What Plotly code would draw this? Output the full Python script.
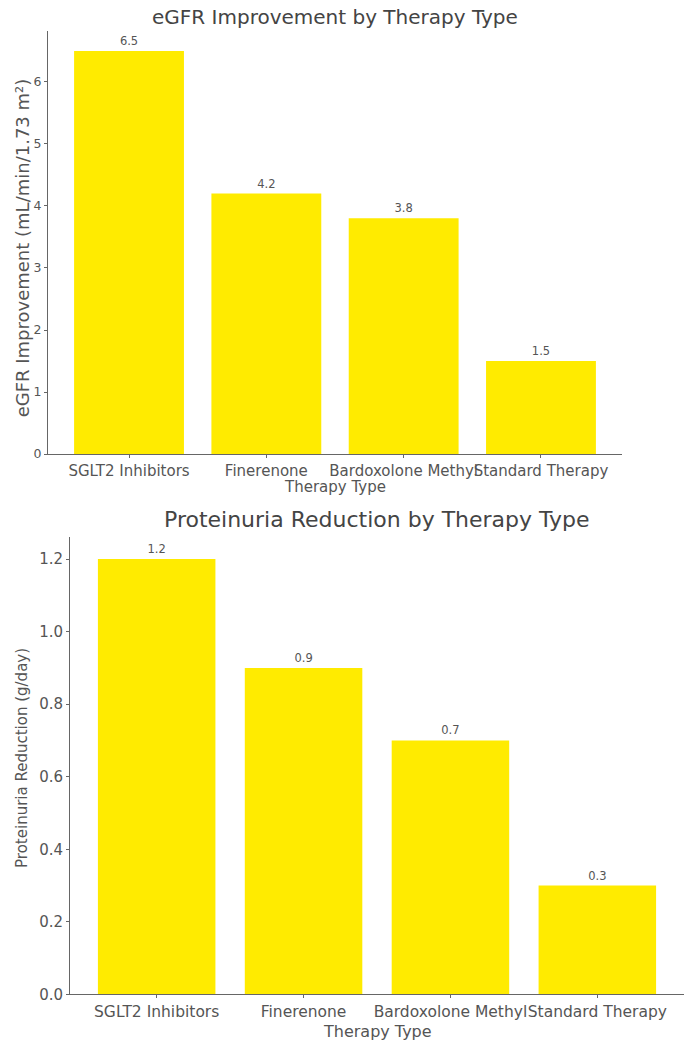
import plotly.graph_objects as go

therapies = ["SGLT2 Inhibitors", "Finerenone", "Bardoxolone Methyl", "Standard Therapy"]
egfr_improvement = [6.5, 4.2, 3.8, 1.5]
proteinuria_reduction = [1.2, 0.9, 0.7, 0.3]
egfr_ticks = [0, 1, 2, 3, 4, 5, 6]
prot_ticks = [0.0, 0.2, 0.4, 0.6, 0.8, 1.0, 1.2]

BAR = "#FFEB00"
TXT = "#555555"
AX = "#666666"
FONT = "DejaVu Sans"

W, H = 684, 1050
# pixel layout of the two panels
top_x0, top_x1, top_y0, top_y1 = 48, 622, 31, 458
bot_x0, bot_x1, bot_y0, bot_y1 = 70, 684, 542, 1003

def px(x):
    return x / W

def py(y):
    return 1 - y / H

fig = go.Figure()
fig.add_trace(go.Bar(x=therapies, y=egfr_improvement, marker=dict(color=BAR, line_width=0),
                     width=0.8, text=[str(v) for v in egfr_improvement], textposition="outside",
                     textfont=dict(size=11.5, color=TXT, family=FONT), cliponaxis=False,
                     xaxis="x", yaxis="y", showlegend=False, hoverinfo="x+y"))
fig.add_trace(go.Bar(x=therapies, y=proteinuria_reduction, marker=dict(color=BAR, line_width=0),
                     width=0.8, text=[str(v) for v in proteinuria_reduction], textposition="outside",
                     textfont=dict(size=11.5, color=TXT, family=FONT), cliponaxis=False,
                     xaxis="x2", yaxis="y2", showlegend=False, hoverinfo="x+y"))

common_x = dict(type="category", showgrid=False, zeroline=False, showline=True, linecolor=AX,
                linewidth=1, ticks="outside", ticklen=3, tickcolor=AX, range=[-0.59, 3.59],
                tickangle=0)
common_y = dict(showgrid=False, zeroline=False, showline=True, linecolor=AX, linewidth=1,
                ticks="outside", ticklen=3, tickcolor=AX)

fig.update_layout(
    width=W, height=H, margin=dict(l=0, r=0, t=0, b=0),
    paper_bgcolor="white", plot_bgcolor="white",
    font=dict(family=FONT, color=TXT),
    xaxis=dict(common_x, domain=[px(top_x0), px(top_x1)], anchor="y",
               tickfont=dict(size=15, color=TXT)),
    yaxis=dict(common_y, domain=[py(top_y1), py(top_y0)], anchor="x", range=[0, 6.825],
               tickvals=egfr_ticks, tickfont=dict(size=12.5, color=TXT)),
    xaxis2=dict(common_x, domain=[px(bot_x0), px(bot_x1)], anchor="y2",
                tickfont=dict(size=15.5, color=TXT)),
    yaxis2=dict(common_y, domain=[py(bot_y1), py(bot_y0)], anchor="x2", range=[0, 1.26],
                tickvals=prot_ticks, ticktext=[f"{v:.1f}" for v in prot_ticks],
                tickfont=dict(size=15, color=TXT)),
    annotations=[
        dict(text="eGFR Improvement by Therapy Type", x=px((top_x0 + top_x1) / 2), y=py(17),
             xref="paper", yref="paper", showarrow=False,
             font=dict(size=20, color="#444444", family=FONT), xanchor="center", yanchor="middle"),
        dict(text="Therapy Type", x=px((top_x0 + top_x1) / 2), y=py(491),
             xref="paper", yref="paper", showarrow=False,
             font=dict(size=15, color=TXT, family=FONT), xanchor="center", yanchor="middle"),
        dict(text="eGFR Improvement (mL/min/1.73 m²)", x=px(22), y=py((top_y0 + top_y1) / 2 + 6),
             xref="paper", yref="paper", showarrow=False, textangle=-90,
             font=dict(size=18, color=TXT, family=FONT), xanchor="center", yanchor="middle"),
        dict(text="Proteinuria Reduction by Therapy Type", x=px((bot_x0 + bot_x1) / 2), y=py(524),
             xref="paper", yref="paper", showarrow=False,
             font=dict(size=22, color="#444444", family=FONT), xanchor="center", yanchor="middle"),
        dict(text="Therapy Type", x=px((bot_x0 + bot_x1) / 2), y=py(1040),
             xref="paper", yref="paper", showarrow=False,
             font=dict(size=16, color=TXT, family=FONT), xanchor="center", yanchor="middle"),
        dict(text="Proteinuria Reduction (g/day)", x=px(22), y=py((bot_y0 + bot_y1) / 2 - 8),
             xref="paper", yref="paper", showarrow=False, textangle=-90,
             font=dict(size=15, color=TXT, family=FONT), xanchor="center", yanchor="middle"),
    ],
)

fig.write_html("out.html", config={"displayModeBar": False},
               post_script="document.body.style.margin='0px';")
